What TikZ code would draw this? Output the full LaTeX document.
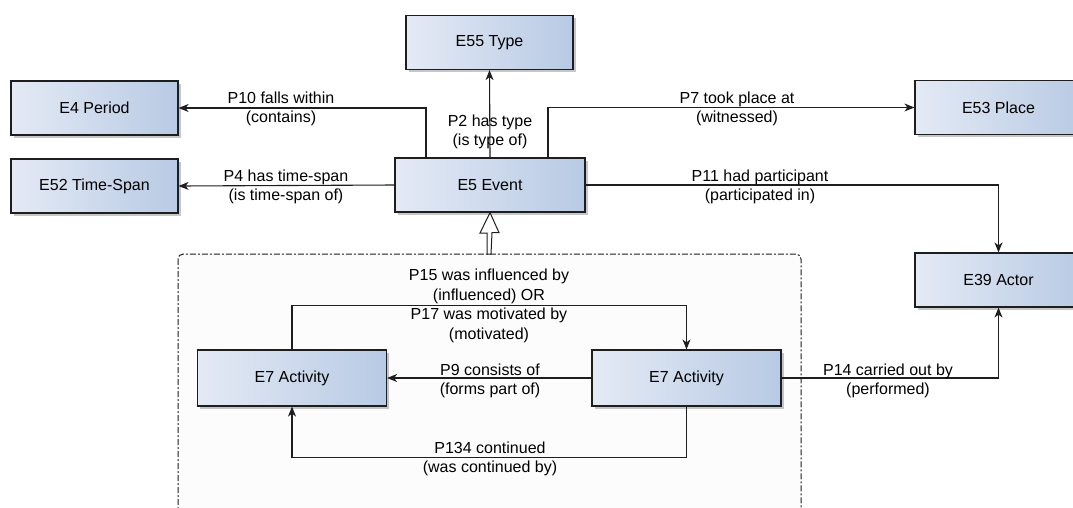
\documentclass[tikz,border=0pt]{standalone}
\usepackage{fontspec}
\setmainfont{Liberation Sans}
\usetikzlibrary{arrows.meta,shadows,calc}
\definecolor{boxl}{RGB}{228,234,245}
\definecolor{boxr}{RGB}{184,202,228}
\definecolor{edge}{RGB}{30,30,30}
\begin{document}
\begin{tikzpicture}[x=1pt,y=-1pt,
  ent/.style={draw=edge,line width=1.2pt,left color=boxl,right color=boxr,
    minimum width=167pt,minimum height=54pt,inner sep=0pt,
    font=\fontsize{16}{19}\selectfont,
    drop shadow={shadow xshift=2.5pt,shadow yshift=-2.5pt,opacity=0.22,fill=black}},
  arr/.style={draw=edge,line width=1.1pt,-{Stealth[length=10pt,width=8pt,inset=3pt]}},
  lbl/.style={align=center,inner sep=0pt,font=\fontsize{16}{19.5}\selectfont},
  hollow/.style={draw=edge,line width=1pt,fill=white,line join=miter}]
\path[use as bounding box,clip] (0,0) rectangle (1073,507);
\fill[white] (0,0) rectangle (1073,507);
% container
\draw[draw=edge,line width=1pt,fill=gray!2,dash pattern=on 6pt off 2pt on 2pt off 2pt,rounded corners=5pt]
  (178,254) rectangle (801,540);
% nodes
\node[ent] (ty) at (489.5,42.5) {E55 Type};
\node[ent] (per) at (94.5,108) {E4 Period};
\node[ent] (ts) at (94.5,186) {E52 Time-Span};
\node[ent,minimum width=190pt] (ev) at (490,185) {E5 Event};
\node[ent] (pl) at (998.5,107.5) {E53 Place};
\node[ent] (ac) at (998.5,280) {E39 Actor};
\node[ent,minimum width=189pt,minimum height=56pt] (a1) at (292,378) {E7 Activity};
\node[ent,minimum width=189pt,minimum height=56pt] (a2) at (686.5,378) {E7 Activity};
\coordinate (ct) at (489,254);
% edges
\draw[arr] ([xshift=-64pt]ev.north) |- (per.east);
\draw[arr] (ev.west) -- (ts.east);
\draw[arr] (ev.north) -- (ty.south);
\draw[arr] ([xshift=58pt]ev.north) |- (pl.west);
\draw[arr] (ev.east) -| (ac.north);
\draw[arr] (a1.north) -- ++(0,-44) -| (a2.north);
\draw[arr] (a2.west) -- (a1.east);
\draw[arr] (a2.south) -- ++(0,51) -| (a1.south);
\draw[arr] (a2.east) -| (ac.south);
\draw[hollow] (ev.south) -- ++(9,20) -- ++(-7,0) -- (ct -| 491,0) -- (ct -| 487,0) -- ++(0,-21) -- ++(-7,0) -- cycle;
% labels
\node[lbl] (l10) at (281,109) {P10 falls within\\(contains)};
\node[lbl] (l4) at (286,187) {P4 has time-span\\(is time-span of)};
\node[lbl] (l2) at (490,132) {P2 has type\\(is type of)};
\node[lbl] (l7) at (737,109) {P7 took place at\\(witnessed)};
\node[lbl] (l11) at (760,187) {P11 had participant\\(participated in)};
\node[lbl] (l15) at (489,306) {P15 was influenced by\\(influenced) OR\\P17 was motivated by\\(motivated)};
\node[lbl] (l9) at (490,381) {P9 consists of\\(forms part of)};
\node[lbl] (l134) at (490,459) {P134 continued\\(was continued by)};
\node[lbl] (l14) at (888,381) {P14 carried out by\\(performed)};
\end{tikzpicture}
\end{document}
